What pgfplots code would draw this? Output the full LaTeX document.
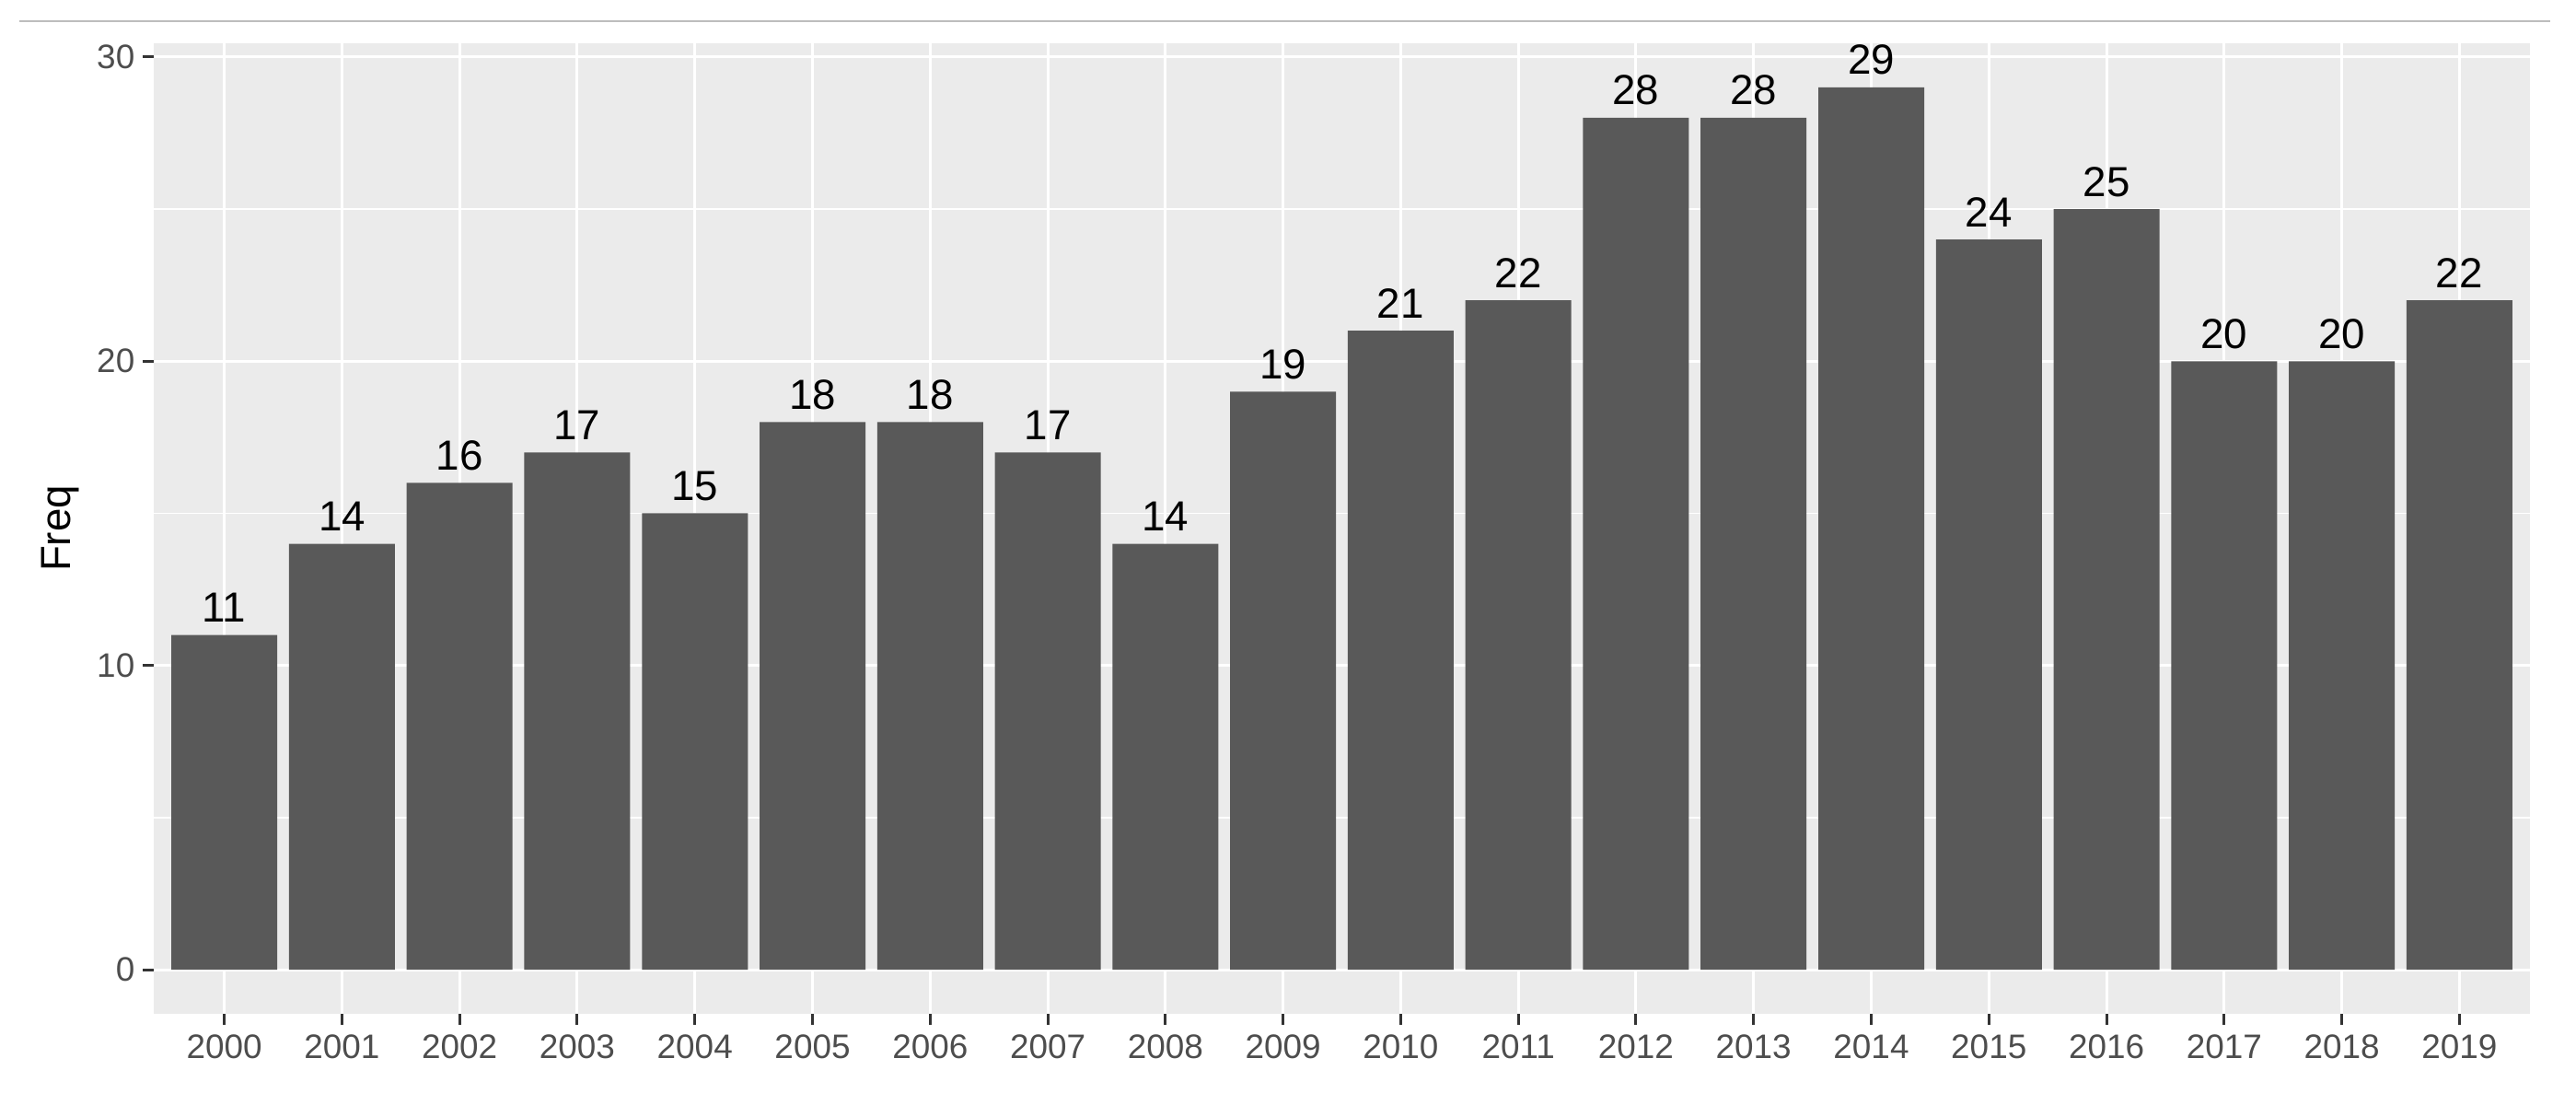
\documentclass[border=0pt]{standalone}
\usepackage{fontspec}
\setmainfont{Liberation Sans}
\usepackage{pgfplots}
\pgfplotsset{compat=1.18}
\pgfplotsset{/pgf/number format/assume math mode=true}

\definecolor{panelbg}{HTML}{EBEBEB}
\definecolor{barfill}{HTML}{595959}
\definecolor{ticklab}{HTML}{4D4D4D}
\definecolor{tickmark}{HTML}{333333}
\definecolor{rulegray}{HTML}{BDBDBD}

\begin{document}
\begin{tikzpicture}
\path[use as bounding box] (0,0) rectangle (279.8mm,118.6mm);
\draw[rulegray, line width=0.25mm] (2.1mm,116.3mm) -- (277mm,116.3mm);
\begin{axis}[
  at={(16.7mm,8.5mm)}, anchor=south west,
  scale only axis, width=258.1mm, height=105.4mm,
  xmin=-0.6, xmax=19.6, ymin=-1.45, ymax=30.45,
  axis background/.style={fill=panelbg},
  axis line style={draw=none},
  xtick={0,...,19},
  xticklabels={2000,2001,2002,2003,2004,2005,2006,2007,2008,2009,
               2010,2011,2012,2013,2014,2015,2016,2017,2018,2019},
  ytick={0,10,20,30},
  minor ytick={5,15,25},
  xmajorgrids, ymajorgrids, yminorgrids,
  major grid style={white, line width=0.3mm},
  minor grid style={white, line width=0.15mm},
  tick align=outside,
  xtick pos=bottom, ytick pos=left,
  major tick length=1.2mm, minor tick length=0pt,
  tick style={tickmark, line width=0.3mm},
  ticklabel style={font=\fontsize{10.5}{12}\selectfont, text=ticklab, inner sep=0pt},
  yticklabel style={anchor=east, xshift=-0.8mm},
  xticklabel style={anchor=north, yshift=-1.05mm},
  ylabel={Freq},
  ylabel style={at={(axis description cs:-0.0395,0.5)}, anchor=center,
                font=\fontsize{13}{13}\selectfont, text=black},
]
\addplot[ybar, bar width=0.9, fill=barfill, draw=none,
  nodes near coords,
  nodes near coords style={font=\fontsize{13}{13}\selectfont, text=black,
                           anchor=base, inner sep=0pt, yshift=1.4mm}]
  coordinates {(0,11)(1,14)(2,16)(3,17)(4,15)(5,18)(6,18)(7,17)(8,14)(9,19)
               (10,21)(11,22)(12,28)(13,28)(14,29)(15,24)(16,25)(17,20)(18,20)(19,22)};
\end{axis}
\end{tikzpicture}
\end{document}
